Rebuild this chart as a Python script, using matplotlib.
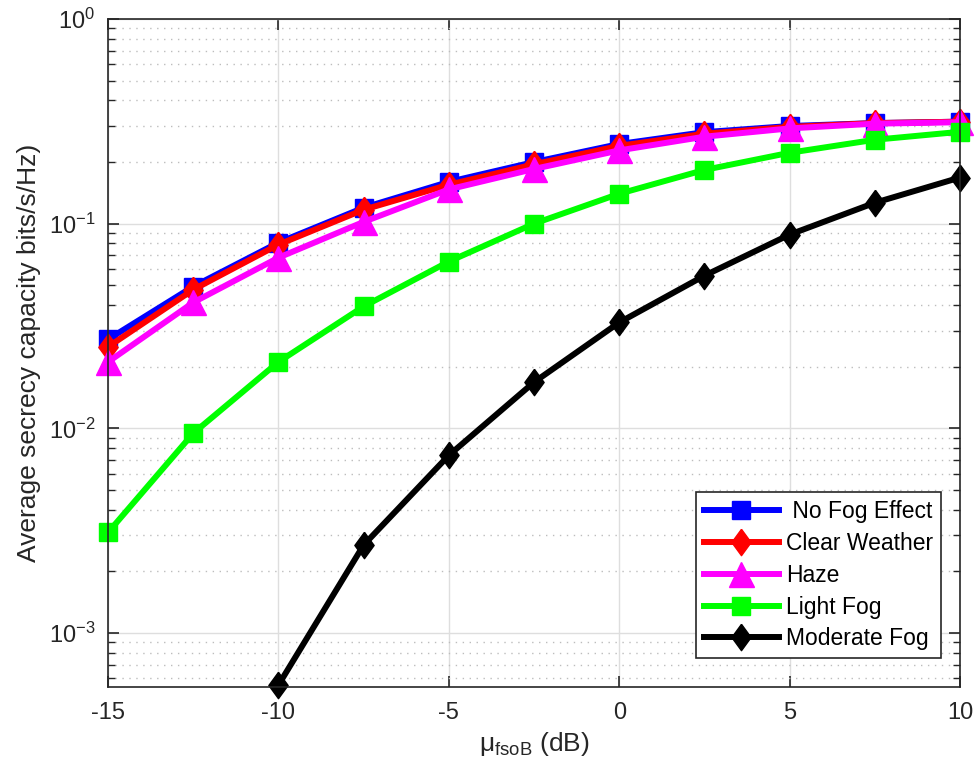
import matplotlib
matplotlib.use("Agg")
import matplotlib.pyplot as plt
from matplotlib.ticker import LogLocator, NullFormatter, MultipleLocator

plt.rcParams['font.family'] = ['Liberation Sans', 'DejaVu Sans']
plt.rcParams['axes.unicode_minus'] = False

# ---- data ----
mu_db = [-15, -12.5, -10, -7.5, -5, -2.5, 0, 2.5, 5, 7.5, 10]
no_fog = [0.0272, 0.0493, 0.0808, 0.1197, 0.160, 0.200, 0.245, 0.280, 0.300, 0.310, 0.315]
clear = [0.0250, 0.0476, 0.0790, 0.1170, 0.155, 0.195, 0.240, 0.275, 0.297, 0.310, 0.315]
haze = [0.0211, 0.0412, 0.0682, 0.1020, 0.147, 0.185, 0.228, 0.266, 0.292, 0.308, 0.313]
light_fog = [0.0031, 0.00946, 0.0211, 0.0394, 0.0653, 0.100, 0.140, 0.183, 0.222, 0.257, 0.281]
mod_x = [-10, -7.5, -5, -2.5, 0, 2.5, 5, 7.5, 10]
moderate_fog = [0.000557, 0.00269, 0.00738, 0.0168, 0.0329, 0.0557, 0.0884, 0.1265, 0.168]

labels = [" No Fog Effect", "Clear Weather", "Haze", "Light Fog", "Moderate Fog"]

# MATLAB-like diamond, a bit taller than wide
diamond = [(0, 1), (0.73, 0), (0, -1), (-0.73, 0), (0, 1)]

fig = plt.figure(figsize=(9.75, 7.78), dpi=100)
ax = fig.add_axes([0.1108, 0.117, 0.8738, 0.8586])

lw = 4.3
common = dict(lw=lw, clip_on=False)
ax.plot(mu_db, no_fog, color="#0000ff", marker="s", ms=13.5, label=labels[0], **common)
ax.plot(mu_db, clear, color="#ff0000", marker=diamond, ms=19, label=labels[1], **common)
ax.plot(mu_db, haze, color="#ff00ff", marker="^", ms=18, label=labels[2], **common)
ax.plot(mu_db, light_fog, color="#00ff00", marker="s", ms=13.5, label=labels[3], **common)
ax.plot(mod_x, moderate_fog, color="#000000", marker=diamond, ms=19, label=labels[4], **common)

ax.set_yscale("log")
ax.set_xlim(-15, 10)
ax.set_ylim(5.45e-4, 1)
ax.xaxis.set_major_locator(MultipleLocator(5))
ax.yaxis.set_major_locator(LogLocator(base=10, numticks=10))
ax.yaxis.set_minor_locator(LogLocator(base=10, subs=range(2, 10), numticks=20))
ax.yaxis.set_minor_formatter(NullFormatter())

ax.grid(True, which="major", color="#dedede", lw=1.0, ls="-")
ax.grid(True, which="minor", axis="y", color="#bdbdbd", lw=1.0, ls=(0, (1, 4)))
ax.set_axisbelow(True)

ax.tick_params(which="both", direction="in", top=True, right=True, labelsize=17,
               color="#262626", labelcolor="#262626")
ax.tick_params(axis="x", pad=11)
ax.tick_params(axis="y", pad=9)
ax.tick_params(which="major", length=8, width=1.2)
ax.tick_params(which="minor", length=5, width=1.0)
for s in ax.spines.values():
    s.set_color("#262626")
    s.set_linewidth(1.2)

ax.set_xlabel(r"$\mathregular{\mu_{fsoB}}$ (dB)", fontsize=19, color="#262626", labelpad=4)
ax.set_ylabel("Average secrecy capacity bits/s/Hz)", fontsize=19, color="#262626", labelpad=6)

leg = ax.legend(loc="lower right", bbox_to_anchor=(0.978, 0.043), fontsize=16.5,
                fancybox=False, framealpha=1, edgecolor="#262626",
                handlelength=3.3, borderpad=0.35, labelspacing=0.38, handletextpad=0.3,
                borderaxespad=0)
leg.get_frame().set_linewidth(1.2)

fig.savefig("out.png", dpi=100)
